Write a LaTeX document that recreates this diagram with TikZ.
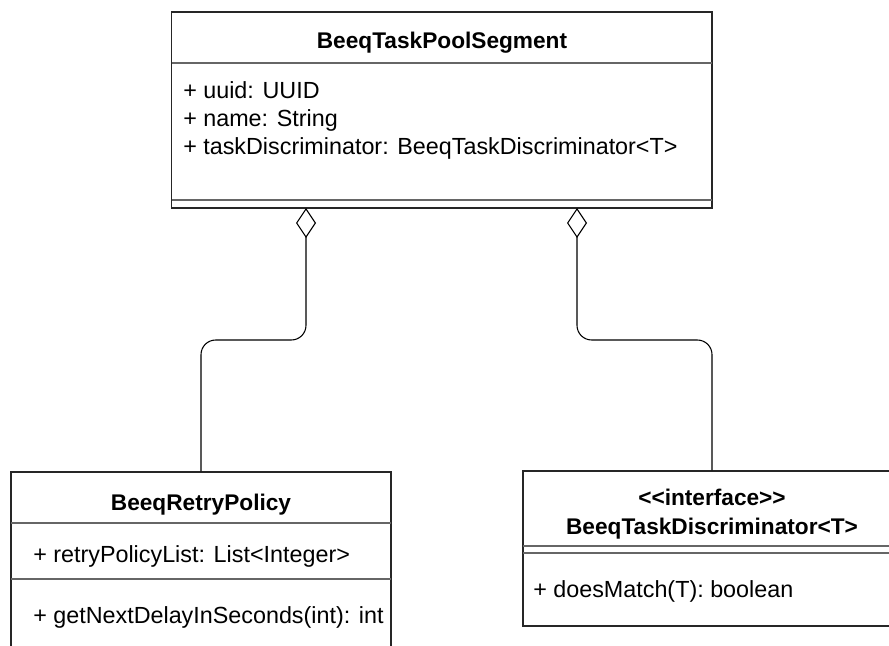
\documentclass[tikz,border=0pt]{standalone}
\usepackage{fontspec}
\setmainfont{Liberation Sans}[Ligatures=TeXOff]
\usetikzlibrary{arrows.meta,fit}

\tikzset{
  umlbox/.style={draw=black!85, line width=1pt, inner sep=0pt},
  sepline/.style={draw=black!60, line width=1.3pt},
  umltitle/.style={font=\fontsize{17}{20}\selectfont\bfseries, anchor=base, inner sep=0pt},
  umlitem/.style={font=\fontsize{17.5}{21}\selectfont, anchor=base west, inner sep=0pt},
  aggr/.style={draw=black, line width=0.8pt, rounded corners=11pt, {Diamond[open,length=22.5pt,width=15pt,line width=0.8pt]}-}
}

\begin{document}
\begin{tikzpicture}[x=0.75pt,y=0.75pt,yscale=-1,xscale=1]
\clip (0,0) rectangle (889,646);
\fill[white] (0,0) rectangle (889,646);

%Class: BeeqTaskPoolSegment
\node[umlbox, fit={(171.5,12) (712,208)}] (seg) {};
\draw[sepline] (171.5,63) -- (712,63);
\draw[sepline] (171.5,200) -- (712,200);
%Class: BeeqRetryPolicy
\node[umlbox, fit={(11,472) (391,660)}] (policy) {};
\draw[sepline] (11,523) -- (391,523);
\draw[sepline] (11,579) -- (391,579);
%Interface: BeeqTaskDiscriminator
\node[umlbox, fit={(523,471) (901,626)}] (discr) {};
\draw[sepline] (523,546) -- (901,546);
\draw[sepline] (523,553) -- (901,553);

% Text Node
\node[umltitle] (segTitle) at (442,48) {BeeqTaskPoolSegment};
% Text Node
\node[umlitem] (segUuid) at (183,98) {+ uuid: UUID};
% Text Node
\node[umlitem] (segName) at (183,126) {+ name: String};
% Text Node
\node[umlitem] (segDiscr) at (183,154) {+ taskDiscriminator: BeeqTaskDiscriminator<T>};
% Text Node
\node[umltitle] (policyTitle) at (201,510) {BeeqRetryPolicy};
% Text Node
\node[umlitem] (policyList) at (33,562) {+ retryPolicyList: List<Integer>};
% Text Node
\node[umlitem] (policyDelay) at (33,623) {+ getNextDelayInSeconds(int): int};
% Text Node
\node[umltitle] (discrStereo) at (712,505) {<<interface>>};
% Text Node
\node[umltitle] (discrTitle) at (712,534) {BeeqTaskDiscriminator<T>};
% Text Node
\node[umlitem] (discrMatch) at (533,597) {+ doesMatch(T): boolean};

%Aggregations
\coordinate (segLeft) at (306,208);
\coordinate (segRight) at (577,208);
\draw[aggr] (segLeft) -- ++(0,132) -| (policy.north);
\draw[aggr] (segRight) -- ++(0,132) -| (discr.north);

\end{tikzpicture}
\end{document}
